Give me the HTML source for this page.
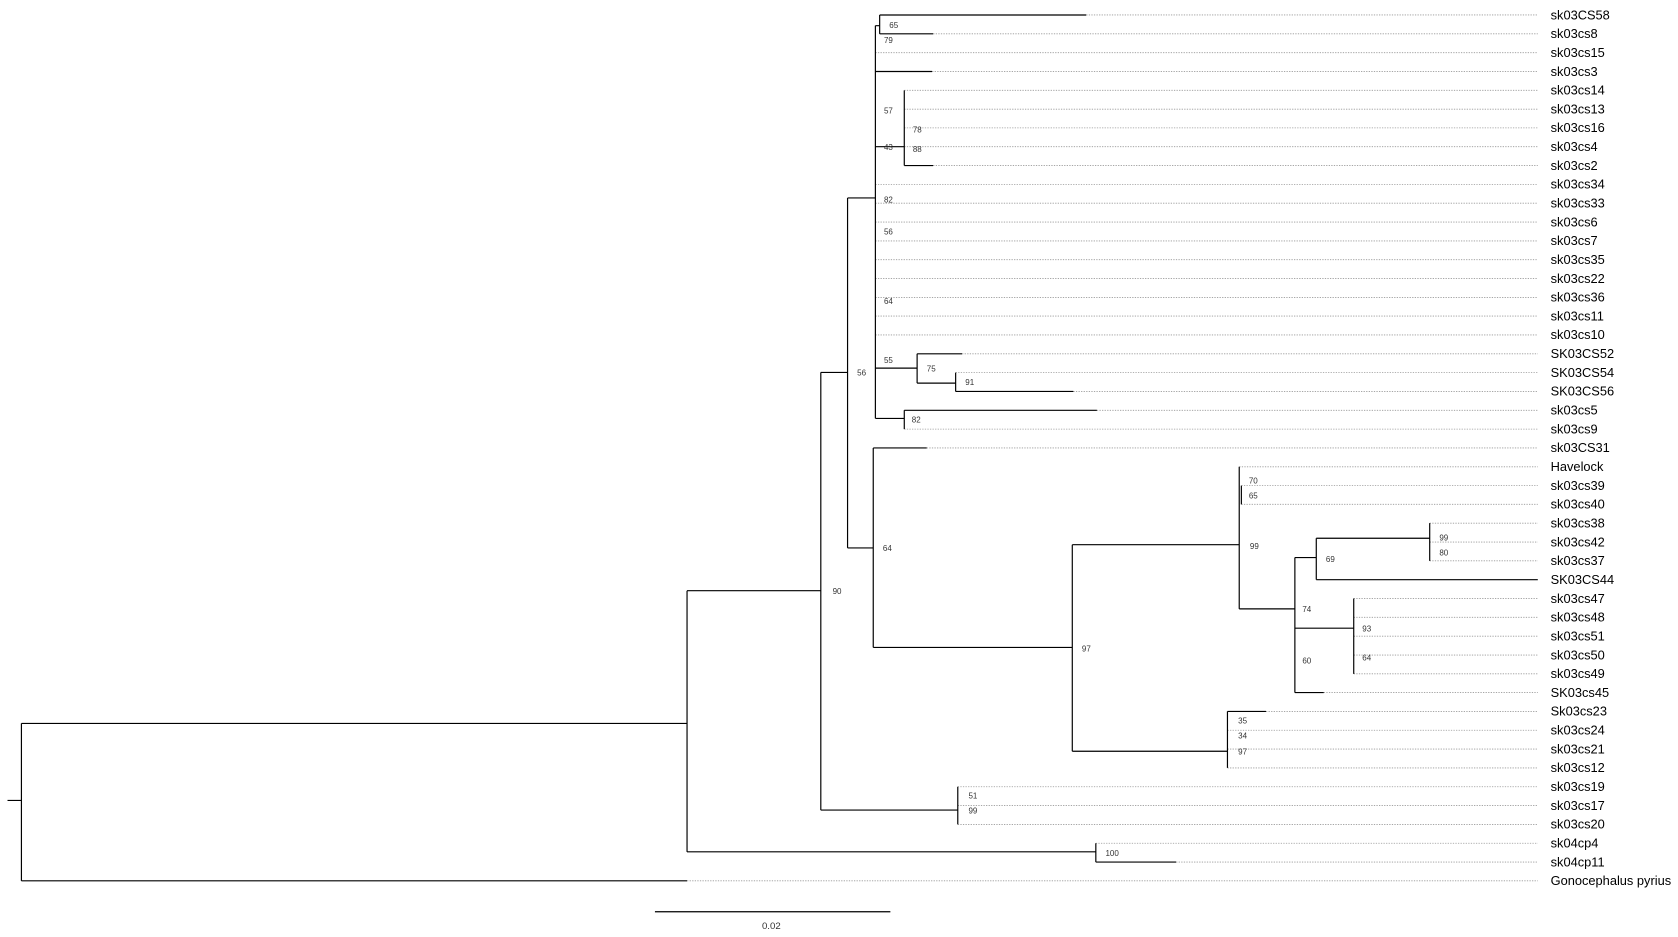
<!DOCTYPE html>
<html><head><meta charset="utf-8"><style>
html,body{margin:0;padding:0;background:#fff;}
svg{display:block;}
.t{font-family:"Liberation Sans",Arial,sans-serif;font-size:12px;fill:#000;}
.b{font-family:"Liberation Sans",Arial,sans-serif;font-size:7.5px;fill:#333;}
</style></head><body>
<svg width="1678" height="937" viewBox="0 0 1568 875.6" xmlns="http://www.w3.org/2000/svg">
<g stroke="#999" stroke-width="0.8" stroke-dasharray="1.2,1.2" fill="none">
<path d="M1015 14H1437M872 31.6H1437M818 49.2H1437M871 66.8H1437M845 84.4H1437M845 102H1437M845 119.5H1437M845 137.1H1437M872 154.7H1437M818 172.3H1437M818 189.9H1437M818 207.5H1437M818 225.1H1437M818 242.7H1437M818 260.3H1437M818 277.9H1437M818 295.4H1437M818 313H1437M899 330.6H1437M893 348.2H1437M1003 365.8H1437M1025 383.4H1437M845 401H1437M866 418.6H1437M1158 436.2H1437M1160 453.8H1437M1160 471.3H1437M1336 488.9H1437M1336 506.5H1437M1336 524.1H1437M1265 559.3H1437M1265 576.9H1437M1265 594.5H1437M1265 612.1H1437M1265 629.7H1437M1237 647.2H1437M1183 664.8H1437M1147 682.4H1437M1147 700H1437M1147 717.6H1437M895 735.2H1437M895 752.8H1437M895 770.4H1437M1024 788H1437M1099 805.6H1437M642 823.1H1437"/>
</g>
<g stroke="#000" stroke-width="1.1" fill="none">
<path d="M7 748H20M20 676V823.1M20 676H642M20 823.1H642"/>
<path d="M642 552V796M642 552H767M642 796H1024M1024 788V805.6M1024 805.6H1099"/>
<path d="M767 348V757M767 348H792M767 757H895M895 735.2V770.4"/>
<path d="M792 185V512M792 185H818M792 512H816"/>
<path d="M818 24V391M818 24H822M822 14V31.6M822 14H1015M822 31.6H872M818 66.8H871M818 137.1H845M845 84.4V154.7M845 154.7H872"/>
<path d="M818 344H857M857 330.6V358M857 330.6H899M857 358H893M893 348.2V365.8M893 365.8H1003"/>
<path d="M818 391H845M845 383.4V401M845 383.4H1025"/>
<path d="M816 418.6V605M816 418.6H866M816 605H1002M1002 509V702M1002 509H1158M1002 702H1147"/>
<path d="M1158 436.2V569M1160 453.8V471.3M1158 569H1210M1210 521V647.2M1210 521H1230M1230 503V541.7M1230 503H1336M1336 488.9V524.1M1230 541.7H1437M1210 587H1265M1265 559.3V629.7M1210 647.2H1237"/>
<path d="M1147 664.8V717.6M1147 664.8H1183"/>
<path d="M612 852H832"/>
</g>
<g class="b">
<text x="831" y="26">65</text><text x="826" y="40">79</text>
<text x="826" y="106">57</text><text x="853" y="124">78</text><text x="826" y="140">43</text><text x="853" y="142">88</text>
<text x="826" y="189">82</text><text x="826" y="219">56</text><text x="826" y="284">64</text>
<text x="826" y="339">55</text><text x="866" y="347">75</text><text x="902" y="360">91</text><text x="852" y="395">82</text>
<text x="801" y="351">56</text><text x="778" y="555">90</text><text x="825" y="515">64</text>
<text x="1011" y="609">97</text><text x="1168" y="513">99</text><text x="1167" y="452">70</text><text x="1167" y="466">65</text>
<text x="1239" y="525">69</text><text x="1345" y="505">99</text><text x="1345" y="519">80</text>
<text x="1217" y="572">74</text><text x="1217" y="620">60</text><text x="1273" y="590">93</text><text x="1273" y="617">64</text>
<text x="1157" y="676">35</text><text x="1157" y="690">34</text><text x="1157" y="705">97</text>
<text x="905" y="746">51</text><text x="905" y="760">99</text><text x="1033" y="800">100</text>
<text x="712" y="868" style="font-size:9px">0.02</text>
</g>
<g class="t">
<text x="1449" y="18">sk03CS58</text><text x="1449" y="35.6">sk03cs8</text><text x="1449" y="53.2">sk03cs15</text><text x="1449" y="70.8">sk03cs3</text>
<text x="1449" y="88.4">sk03cs14</text><text x="1449" y="106">sk03cs13</text><text x="1449" y="123.5">sk03cs16</text><text x="1449" y="141.1">sk03cs4</text>
<text x="1449" y="158.7">sk03cs2</text><text x="1449" y="176.3">sk03cs34</text><text x="1449" y="193.9">sk03cs33</text><text x="1449" y="211.5">sk03cs6</text>
<text x="1449" y="229.1">sk03cs7</text><text x="1449" y="246.7">sk03cs35</text><text x="1449" y="264.3">sk03cs22</text><text x="1449" y="281.9">sk03cs36</text>
<text x="1449" y="299.4">sk03cs11</text><text x="1449" y="317">sk03cs10</text><text x="1449" y="334.6">SK03CS52</text><text x="1449" y="352.2">SK03CS54</text>
<text x="1449" y="369.8">SK03CS56</text><text x="1449" y="387.4">sk03cs5</text><text x="1449" y="405">sk03cs9</text><text x="1449" y="422.6">sk03CS31</text>
<text x="1449" y="440.2">Havelock</text><text x="1449" y="457.8">sk03cs39</text><text x="1449" y="475.3">sk03cs40</text><text x="1449" y="492.9">sk03cs38</text>
<text x="1449" y="510.5">sk03cs42</text><text x="1449" y="528.1">sk03cs37</text><text x="1449" y="545.7">SK03CS44</text><text x="1449" y="563.3">sk03cs47</text>
<text x="1449" y="580.9">sk03cs48</text><text x="1449" y="598.5">sk03cs51</text><text x="1449" y="616.1">sk03cs50</text><text x="1449" y="633.7">sk03cs49</text>
<text x="1449" y="651.2">SK03cs45</text><text x="1449" y="668.8">Sk03cs23</text><text x="1449" y="686.4">sk03cs24</text><text x="1449" y="704">sk03cs21</text>
<text x="1449" y="721.6">sk03cs12</text><text x="1449" y="739.2">sk03cs19</text><text x="1449" y="756.8">sk03cs17</text><text x="1449" y="774.4">sk03cs20</text>
<text x="1449" y="792">sk04cp4</text><text x="1449" y="809.6">sk04cp11</text><text x="1449" y="827.1">Gonocephalus pyrius</text>
</g>
</svg>
</body></html>
